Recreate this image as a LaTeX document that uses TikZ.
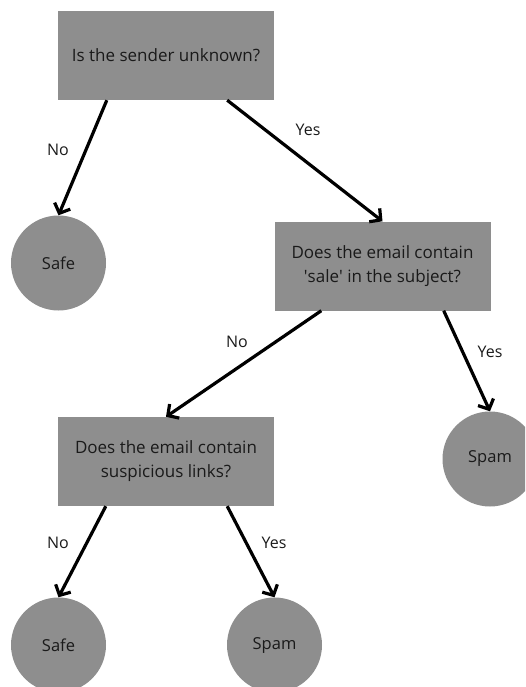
\documentclass[tikz,border=0pt]{standalone}
\usepackage{fontspec}
\setmainfont{Open Sans}
\usetikzlibrary{arrows.meta, positioning}
\definecolor{boxgray}{HTML}{8E8E8E}
\definecolor{inkgray}{HTML}{1A1A1A}
\tikzset{
  question/.style={fill=boxgray, minimum width=216pt, minimum height=89pt, align=center, text=inkgray, font=\fontsize{17}{24}\selectfont},
  leaf/.style={circle, fill=boxgray, minimum size=95pt, inner sep=0pt, text=inkgray, font=\fontsize{16.5}{24}\selectfont},
  answer/.style={text=inkgray, font=\fontsize{16}{18}\selectfont},
  branch/.style={line width=3.2pt, -{Straight Barb[length=8pt,width=17pt,line width=3.2pt]}}
}
\begin{document}
\begin{tikzpicture}[x=1pt, y=-1pt]
        \useasboundingbox (0,0) rectangle (525,687);
        \clip (0,0) rectangle (525,687);
        \node[question] (sender) at (166,55.5) {Is the sender unknown?};
        \node[leaf] (safeA) at (58.5,263) {Safe};
        \node[question] (sale) at (382.5,266) {Does the email contain\\\textquotesingle sale\textquotesingle{} in the subject?};
        \node[leaf] (spamA) at (490,459) {Spam};
        \node[question] (links) at (166,461.5) {Does the email contain\\suspicious links?};
        \node[leaf] (safeB) at (58.5,645) {Safe};
        \node[leaf] (spamB) at (274.5,645) {Spam};

        \node[answer] (noA) at (58,150) {No};
        \node[answer] (yesA) at (308,130) {Yes};
        \node[answer] (noB) at (237,342) {No};
        \node[answer] (yesB) at (490,352) {Yes};
        \node[answer] (noC) at (58,543) {No};
        \node[answer] (yesC) at (274,543) {Yes};

        \draw[branch] ([xshift=49pt]sender.south west) -- (safeA.north);
        \draw[branch] ([xshift=-47pt]sender.south east) -- (sale.north);
        \draw[branch] ([xshift=47pt]sale.south west) -- (links.north);
        \draw[branch] ([xshift=-47pt]sale.south east) -- (spamA.north);
        \draw[branch] ([xshift=48pt]links.south west) -- (safeB.north);
        \draw[branch] ([xshift=-47pt]links.south east) -- (spamB.north);
    \end{tikzpicture}
\end{document}
